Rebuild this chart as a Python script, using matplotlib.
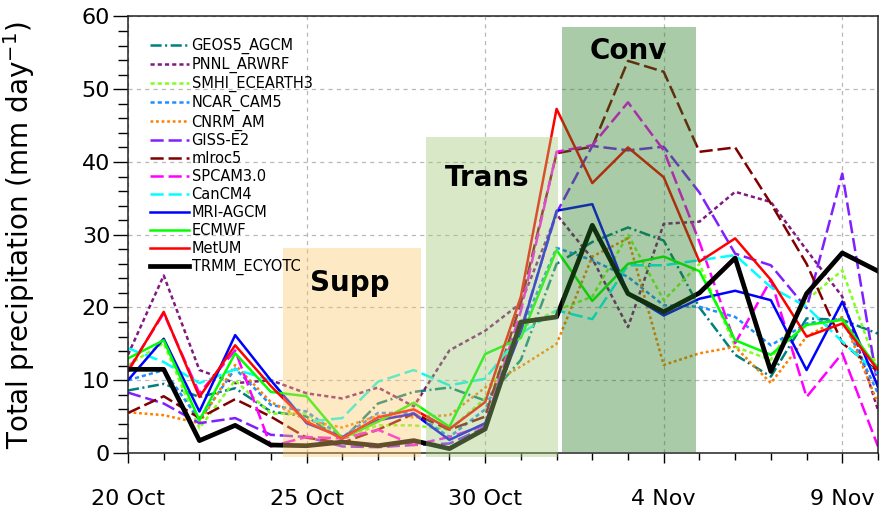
import numpy as np
import matplotlib
matplotlib.use("Agg")
import matplotlib.pyplot as plt
from matplotlib.patches import Rectangle
from matplotlib.ticker import MultipleLocator

plt.rcParams["font.family"] = "DejaVu Sans"
plt.rcParams["lines.scale_dashes"] = False

# daily totals, 20 Oct .. 10 Nov
days = np.arange(22)
tick_days = [0, 5, 10, 15, 20]
tick_labels = ["20 Oct", "25 Oct", "30 Oct", "4 Nov", "9 Nov"]

geos5 = [8.6, 9.5, 7.7, 8.9, 5.7, 5.0, 1.8, 6.8, 8.4, 9.0, 7.2, 12.8, 26.0, 29.0, 31.0, 29.2, 20.0, 13.5, 10.5, 18.5, 18.3, 16.4]
pnnl = [13.5, 24.4, 11.4, 9.6, 10.0, 8.2, 7.5, 9.0, 6.4, 14.1, 16.8, 20.6, 32.8, 26.7, 17.3, 31.5, 31.8, 35.9, 34.5, 27.9, 21.5, 5.9]
smhi = [12.1, 15.1, 3.4, 10.0, 5.4, 5.4, 2.0, 3.8, 3.8, 3.2, 7.5, 17.2, 19.6, 21.5, 30.0, 21.0, 26.0, 14.6, 12.8, 21.0, 25.1, 11.4]
ncar = [10.0, 11.4, 4.5, 11.6, 6.6, 5.7, 2.2, 5.5, 5.5, 2.2, 6.0, 16.9, 28.2, 26.5, 24.2, 20.3, 20.1, 18.7, 14.8, 17.8, 18.5, 8.2]
cnrm = [5.6, 5.2, 4.1, 12.1, 7.0, 4.5, 3.5, 5.1, 4.9, 5.2, 9.0, 11.9, 15.0, 27.0, 29.5, 12.1, 13.7, 14.6, 9.6, 16.0, 18.7, 6.8]
giss = [8.3, 6.8, 4.1, 4.8, 2.5, 2.2, 0.9, 0.8, 1.1, 1.3, 3.5, 17.0, 33.0, 42.2, 41.6, 42.1, 35.8, 27.4, 25.8, 19.9, 38.4, 9.1]
mlroc5 = [5.5, 7.8, 4.8, 7.4, 5.0, 2.1, 1.4, 3.2, 5.4, 3.2, 5.0, 20.6, 41.2, 42.1, 53.9, 52.4, 41.4, 42.0, 34.3, 26.0, 15.1, 11.2]
spcam = [11.4, 19.2, 8.2, 14.1, 0.9, 2.2, 2.0, 3.2, 1.1, 2.2, 3.8, 19.5, 41.4, 42.3, 48.2, 41.6, 29.0, 15.1, 23.8, 7.7, 13.7, 0.9]
cancm4 = [14.4, 12.5, 9.6, 11.5, 10.0, 4.3, 4.8, 9.8, 11.4, 9.3, 10.2, 16.4, 19.6, 18.4, 25.8, 25.8, 26.5, 27.2, 22.8, 20.1, 15.3, 10.9]
mri = [10.0, 15.7, 5.7, 16.2, 10.0, 4.1, 2.2, 4.5, 5.4, 1.8, 4.1, 16.7, 33.3, 34.2, 21.9, 18.9, 21.2, 22.3, 21.0, 11.4, 20.8, 9.1]
ecmwf = [13.0, 15.5, 4.5, 13.7, 8.4, 7.8, 2.0, 4.3, 6.9, 3.6, 13.6, 15.8, 27.9, 20.9, 26.0, 27.0, 25.0, 15.5, 13.5, 17.6, 18.3, 11.6]
metum = [11.2, 19.4, 7.7, 14.8, 9.2, 4.3, 2.0, 4.9, 6.0, 3.3, 7.0, 21.5, 47.3, 37.1, 42.0, 37.9, 26.3, 29.5, 23.8, 16.0, 17.8, 11.4]
trmm = [11.5, 11.5, 1.7, 3.8, 1.1, 1.0, 1.5, 1.0, 1.7, 0.6, 3.3, 18.0, 18.7, 31.3, 21.9, 19.4, 22.0, 26.8, 11.2, 21.9, 27.5, 25.0]

# MJO phases: suppressed, transition, convective
phase_names = ["Supp", "Trans", "Conv"]
phase_start = [4.34, 8.33, 12.16]
phase_end = [8.21, 12.05, 15.90]
phase_top = [28.2, 43.4, 58.6]

dot = (0, (3, 2.2))
rdot = (0, (2, 2))
dash = (0, (9.5, 3.5))
dashdot = (0, (8, 2.5, 1.5, 2.5))

series = [
    ("GEOS5_AGCM", geos5, "#00807f", dashdot, 1.8),
    ("PNNL_ARWRF", pnnl, "#801a80", dot, 1.8),
    ("SMHI_ECEARTH3", smhi, "#80ff20", dot, 1.8),
    ("NCAR_CAM5", ncar, "#1e90ff", dot, 1.8),
    ("CNRM_AM", cnrm, "#ff8000", rdot, 1.8),
    ("GISS-E2", giss, "#8020ff", dash, 1.8),
    ("mlroc5", mlroc5, "#800000", dash, 1.8),
    ("SPCAM3.0", spcam, "#ff00ff", dash, 1.8),
    ("CanCM4", cancm4, "#00ffff", dash, 1.8),
    ("MRI-AGCM", mri, "#0000ff", "-", 1.8),
    ("ECMWF", ecmwf, "#00ff00", "-", 1.8),
    ("MetUM", metum, "#ff0000", "-", 1.8),
    ("TRMM_ECYOTC", trmm, "black", "-", 3.4),
]

fig = plt.figure(figsize=(8.81, 5.15), dpi=100)
ax = fig.add_axes([0.1453, 0.1204, 0.8513, 0.8476])

for name, vals, col, ls, lw in series:
    ax.plot(days, vals, color=col, linestyle=ls, linewidth=lw, label=name, zorder=2)

# translucent phase boxes sit over the lines
phase_colors = ["#fac86b", "#a0ca75", "#2a7d25"]
phase_bottom = [-0.55, -0.55, 0.2]
for i, name in enumerate(phase_names):
    ax.add_patch(Rectangle((phase_start[i], phase_bottom[i]), phase_end[i] - phase_start[i],
                           phase_top[i] - phase_bottom[i], facecolor=phase_colors[i],
                           edgecolor="none", alpha=0.4, zorder=3, clip_on=False))

ax.text(6.2, 23.3, "Supp", fontsize=20, fontweight="bold", ha="center", va="center", zorder=4)
ax.text(10.06, 37.8, "Trans", fontsize=20, fontweight="bold", ha="center", va="center", zorder=4)
ax.text(14.0, 55.3, "Conv", fontsize=20, fontweight="bold", ha="center", va="center", zorder=4)

ax.set_xlim(0, 21)
ax.set_ylim(0, 60)
ax.set_xticks(tick_days)
ax.set_xticklabels(tick_labels)
ax.xaxis.set_minor_locator(MultipleLocator(1))
ax.yaxis.set_major_locator(MultipleLocator(10))
ax.yaxis.set_minor_locator(MultipleLocator(2))
ax.tick_params(axis="x", which="major", direction="out", length=7, width=1, pad=19, labelsize=16)
ax.tick_params(axis="x", which="minor", direction="out", length=5, width=1)
ax.tick_params(axis="y", which="major", direction="out", length=10.8, width=1, pad=2, labelsize=16)
ax.tick_params(axis="y", which="minor", direction="out", length=7.2, width=1)
for sp in ax.spines.values():
    sp.set_linewidth(1.1)
    sp.set_color("#222222")

ax.grid(True, which="major", color="#b8b8b8", linestyle=(0, (3, 3)), linewidth=0.9, zorder=0)
ax.set_axisbelow(True)

ax.set_ylabel("Total precipitation (mm day$^{-1}$)", fontsize=20)
ax.yaxis.set_label_coords(-0.121, 0.5)

leg = ax.legend(loc="upper left", bbox_to_anchor=(0.0293, 0.951), frameon=False, fontsize=10.5,
                handlelength=2.7, handletextpad=0.15, labelspacing=0.2,
                borderpad=0, borderaxespad=0)
leg.set_zorder(5)

fig.savefig("out.png", dpi=100)
